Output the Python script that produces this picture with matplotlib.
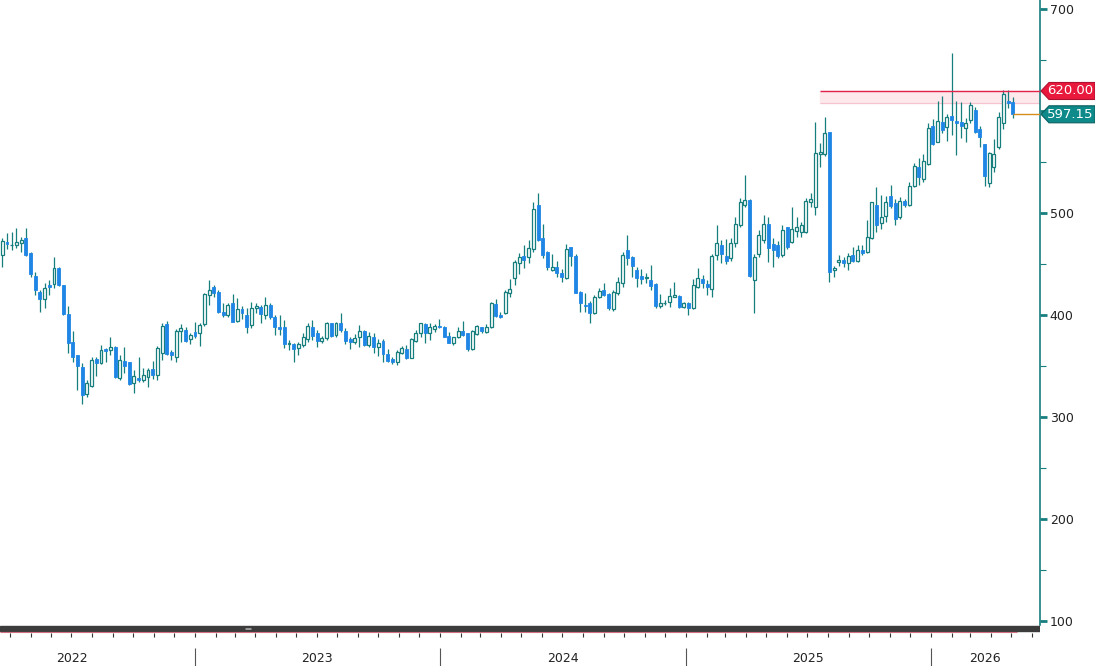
import matplotlib
matplotlib.use('Agg')
import matplotlib.pyplot as plt
import matplotlib.dates as mdates
from matplotlib.patches import Polygon
from matplotlib.transforms import blended_transform_factory
import numpy as np
import pandas as pd

# weekly candles, first week starting 2022-03-20
start = '2022-03-20'

opens = [459.2, 471.6, 469.0, 469.0, 471.3, 475.5, 460.8, 438.6, 423.2, 416.0,
         429.5, 430.7, 446.1, 429.7, 401.0, 374.0, 361.0, 349.6, 322.8, 331.0,
         357.1, 352.9, 366.6, 366.0, 369.2, 338.2, 355.2, 354.5, 333.9, 338.5,
         336.5, 339.8, 347.0, 341.4, 363.4, 391.5, 364.3, 358.8, 384.6, 385.6,
         376.4, 384.0, 382.3, 391.5, 420.0, 428.2, 423.2, 403.0, 400.4, 411.8,
         394.8, 405.9, 400.4, 390.5, 406.9, 408.5, 400.4, 410.2, 398.7, 388.9,
         388.3, 371.9, 371.9, 367.7, 370.9, 376.5, 388.9, 382.4, 375.2, 377.5,
         392.2, 380.7, 392.8, 384.7, 376.5, 374.2, 378.4, 384.7, 370.9, 378.4,
         368.6, 374.9, 362.1, 356.9, 354.6, 363.4, 367.0, 358.5, 375.2, 382.4,
         391.5, 382.4, 386.3, 389.6, 388.9, 379.8, 373.2, 378.4, 384.7, 382.4,
         366.7, 381.7, 388.3, 384.0, 388.3, 411.1, 400.3, 401.9, 422.2, 436.2,
         451.0, 458.1, 456.8, 464.7, 508.2, 475.5, 462.4, 444.4, 447.0, 441.8,
         436.2, 467.3, 458.1, 423.2, 410.1, 411.7, 402.6, 417.6, 424.8, 420.9,
         405.8, 421.5, 432.0, 464.0, 456.8, 444.4, 438.5, 436.2, 434.6, 430.7,
         409.1, 412.4, 413.4, 418.3, 418.9, 408.4, 412.4, 406.8, 427.4, 435.3,
         430.7, 425.5, 459.1, 468.9, 458.1, 455.9, 470.6, 488.6, 508.2, 513.2,
         434.7, 460.2, 473.9, 489.6, 470.0, 469.0, 459.2, 486.3, 472.3, 483.1,
         482.1, 482.1, 511.5, 505.8, 558.5, 558.2, 579.4, 444.4, 452.5, 454.2,
         451.6, 459.1, 453.5, 464.6, 462.4, 475.4, 508.1, 490.2, 497.3, 517.0,
         510.4, 496.0, 512.4, 508.1, 526.8, 545.7, 533.3, 548.4, 585.6, 570.3,
         589.9, 585.0, 595.4, 590.5, 589.9, 583.3, 591.5, 601.3, 582.4, 568.0,
         530.0, 545.1, 565.4, 588.9, 610.2, 608.8]

highs = [475.6, 480.4, 482.0, 485.3, 476.5, 485.3, 461.8, 442.8, 424.8, 431.4,
         434.6, 456.9, 447.0, 429.7, 409.0, 384.6, 361.0, 352.9, 336.5, 359.4,
         358.8, 370.9, 367.6, 378.4, 369.9, 361.0, 369.2, 354.5, 346.4, 358.8,
         348.0, 348.0, 355.2, 369.9, 392.8, 394.7, 366.0, 386.2, 391.5, 388.2,
         382.3, 393.1, 392.1, 422.2, 434.6, 429.8, 424.9, 411.8, 412.5, 421.0,
         416.7, 409.2, 406.9, 413.4, 412.5, 410.2, 417.7, 412.5, 400.4, 400.4,
         395.5, 375.8, 373.2, 374.2, 382.4, 392.8, 395.5, 385.6, 379.8, 393.8,
         392.8, 393.8, 402.0, 387.3, 379.1, 381.7, 390.5, 385.6, 384.0, 383.0,
         376.5, 376.5, 366.7, 359.5, 366.0, 370.0, 370.9, 377.5, 385.6, 392.8,
         392.8, 392.2, 391.5, 396.0, 389.6, 384.0, 379.1, 388.3, 394.8, 383.0,
         385.6, 390.5, 388.9, 391.5, 413.4, 415.7, 403.5, 424.8, 435.3, 454.2,
         460.8, 469.0, 473.8, 511.4, 519.6, 489.5, 463.4, 460.1, 453.6, 445.1,
         469.9, 467.3, 460.1, 424.1, 421.5, 414.4, 419.9, 426.4, 431.3, 421.5,
         424.8, 437.9, 462.4, 478.7, 458.1, 447.0, 445.1, 441.1, 449.3, 431.3,
         420.9, 415.0, 426.4, 433.0, 419.9, 413.4, 413.4, 435.3, 446.0, 439.5,
         434.6, 460.1, 488.6, 473.8, 474.5, 475.6, 496.2, 514.8, 537.7, 513.8,
         460.2, 483.7, 498.4, 496.2, 475.6, 473.3, 488.6, 487.0, 506.0, 496.2,
         491.9, 514.8, 520.4, 589.9, 568.6, 594.8, 580.1, 448.3, 459.1, 457.5,
         460.7, 466.6, 468.9, 468.9, 493.4, 511.4, 526.1, 518.0, 517.0, 527.8,
         513.7, 515.7, 513.7, 531.0, 549.7, 553.9, 558.2, 588.3, 592.2, 610.5,
         615.0, 597.4, 657.6, 610.5, 609.5, 593.2, 609.5, 604.6, 585.6, 568.0,
         560.5, 572.6, 599.7, 621.0, 621.0, 613.8]

lows = [447.2, 464.7, 464.0, 465.7, 462.4, 458.2, 437.3, 420.0, 403.6, 406.8,
        420.0, 426.5, 429.0, 400.3, 363.4, 354.5, 326.7, 313.0, 320.2, 330.0,
        340.8, 352.2, 354.5, 361.1, 338.2, 336.5, 343.1, 331.6, 324.1, 334.9,
        334.9, 330.0, 337.2, 336.5, 356.2, 361.1, 356.2, 354.5, 374.0, 374.0,
        371.9, 377.4, 369.9, 389.5, 410.0, 418.3, 402.6, 398.7, 398.7, 393.2,
        393.8, 396.1, 382.4, 387.3, 402.0, 392.2, 396.1, 396.1, 380.7, 380.7,
        367.7, 366.0, 354.6, 361.1, 368.6, 374.2, 375.8, 368.6, 373.2, 375.8,
        378.4, 379.1, 384.0, 372.0, 366.7, 371.9, 369.3, 370.0, 368.6, 363.4,
        360.1, 354.6, 354.6, 352.3, 351.3, 362.1, 356.9, 357.8, 374.2, 379.1,
        372.6, 375.8, 384.0, 387.3, 378.4, 372.6, 370.9, 377.5, 379.8, 365.4,
        366.0, 380.7, 383.0, 382.4, 387.3, 398.7, 397.0, 401.2, 417.6, 429.7,
        440.5, 446.0, 451.0, 462.4, 473.2, 455.9, 444.4, 443.8, 437.2, 433.0,
        435.3, 448.3, 421.5, 403.5, 403.5, 392.1, 401.2, 416.6, 418.9, 405.2,
        404.5, 419.9, 427.4, 449.3, 437.2, 428.0, 430.7, 431.3, 424.8, 406.8,
        406.8, 410.1, 408.4, 417.6, 406.8, 406.8, 400.3, 405.8, 426.4, 426.4,
        419.9, 418.3, 454.2, 450.9, 450.3, 453.6, 466.7, 487.0, 506.6, 437.9,
        402.6, 456.9, 471.3, 452.6, 447.8, 455.9, 456.9, 464.8, 470.7, 476.5,
        477.2, 481.1, 506.6, 498.3, 545.7, 556.2, 432.9, 437.2, 448.3, 447.0,
        445.0, 452.5, 452.5, 459.1, 460.7, 474.5, 482.0, 484.3, 491.8, 504.9,
        488.5, 495.0, 506.5, 507.2, 525.5, 527.8, 531.0, 547.4, 567.0, 570.3,
        578.4, 571.2, 576.8, 557.2, 573.5, 570.3, 588.9, 578.4, 564.7, 526.8,
        525.5, 540.8, 562.7, 582.4, 603.0, 593.2]

closes = [473.2, 469.6, 469.5, 471.6, 474.0, 459.2, 440.2, 424.8, 416.0, 426.5,
          428.0, 446.1, 429.7, 401.0, 373.0, 359.4, 350.6, 321.8, 334.2, 356.2,
          353.5, 366.0, 365.3, 369.2, 339.8, 356.2, 350.3, 332.6, 340.5, 336.5,
          341.4, 346.4, 341.4, 367.6, 389.5, 362.0, 361.1, 385.0, 387.9, 375.1,
          380.6, 379.7, 390.5, 420.9, 424.8, 421.6, 403.6, 400.4, 410.2, 393.8,
          405.9, 402.0, 388.3, 406.9, 409.2, 401.0, 410.2, 398.1, 388.3, 386.6,
          371.9, 373.2, 367.0, 371.9, 379.1, 389.6, 379.8, 375.2, 377.5, 392.8,
          379.8, 392.8, 385.6, 375.2, 373.5, 377.5, 384.7, 370.9, 379.8, 368.6,
          372.6, 362.1, 355.6, 353.9, 364.4, 368.3, 357.8, 376.5, 383.0, 392.2,
          382.4, 388.9, 389.6, 388.3, 379.1, 373.2, 378.4, 384.7, 380.7, 366.7,
          385.0, 389.6, 385.0, 388.3, 412.4, 399.7, 398.6, 423.2, 425.5, 452.6,
          456.8, 454.2, 465.7, 503.9, 473.8, 459.1, 447.7, 447.0, 441.8, 437.9,
          465.0, 458.1, 422.2, 411.7, 409.4, 401.9, 418.3, 424.2, 419.9, 406.8,
          423.2, 433.0, 459.1, 455.9, 448.3, 436.2, 435.3, 437.2, 428.7, 409.1,
          412.4, 412.6, 418.9, 419.9, 407.8, 412.4, 406.8, 429.7, 436.2, 431.3,
          427.4, 458.1, 470.6, 460.1, 453.6, 471.3, 489.6, 511.5, 513.2, 438.6,
          457.6, 478.8, 489.6, 465.7, 464.1, 458.2, 483.7, 466.7, 484.4, 487.0,
          488.6, 512.5, 513.8, 559.5, 560.0, 578.4, 442.7, 446.0, 454.8, 451.6,
          458.1, 453.5, 464.6, 460.7, 476.4, 510.7, 488.5, 496.0, 511.4, 507.2,
          495.0, 512.4, 508.1, 526.8, 546.4, 535.3, 551.6, 583.3, 568.0, 590.9,
          581.7, 594.1, 591.5, 588.3, 585.6, 588.9, 606.2, 580.1, 575.2, 536.6,
          558.8, 557.8, 594.1, 617.0, 608.5, 597.15]

y_ticks = [100, 200, 300, 400, 500, 600, 700]
y_labels = ['100', '200', '300', '400', '500', '', '700']  # 600 sits under the price tag
year_labels = ['2022', '2023', '2024', '2025', '2026']
level_price = 620.0
band_low = 608.0
last_price = 597.15

teal = '#177e7e'
blue = '#1f86e6'

W, H = 1095, 666
fig = plt.figure(figsize=(W / 100, H / 100), dpi=100)
fig.patch.set_facecolor('white')

ax_w = 1040 / W
strip_h = 41 / H
ax = fig.add_axes([0, strip_h, ax_w, 1 - strip_h])

o = np.array(opens)
h = np.array(highs)
l = np.array(lows)
c = np.array(closes)
dates = pd.date_range(start, periods=len(c), freq='7D')
x = mdates.date2num(dates)
week = 7.0

up = c >= o
dn = ~up
width = 4.4

ax.vlines(x, l, h, color=teal, lw=0.9, zorder=2)
ax.bar(x[up], (c - o)[up], width=width, bottom=o[up], facecolor='white',
       edgecolor=teal, linewidth=0.9, zorder=3)
ax.bar(x[dn], (o - c)[dn], width=width, bottom=c[dn], facecolor=blue,
       edgecolor=blue, linewidth=0.6, zorder=3)

x_left = x[0] - 0.49 * week
x_right = x[0] + 220.8 * week
ax.set_xlim(x_left, x_right)
ax.set_ylim(96.5, 709.2)

# resistance level + band
lvl_start = x[0] + 174 * week
ax.fill_between([lvl_start, x_right], band_low, level_price, color='#fde8ec', zorder=1)
ax.hlines(band_low, lvl_start, x_right, color='#f6c2cd', lw=0.8, zorder=1)
ax.hlines(level_price, lvl_start, x_right, color='#e2234a', lw=1.0, zorder=4)
ax.hlines(last_price, x[-1], x_right, color='#d68f1f', lw=1.0, zorder=4)

# right axis
ax.yaxis.tick_right()
ax.set_yticks(y_ticks)
ax.set_yticklabels(y_labels)
ax.set_yticks([v + 50 for v in y_ticks[:-1]], minor=True)
ax.tick_params(axis='y', which='major', direction='out', length=5, width=2,
               color=teal, labelsize=9, labelcolor='#222222', pad=2)
ax.tick_params(axis='y', which='minor', direction='out', length=4, width=0.8,
               color=teal)
ax.set_xticks([])
for s in ['top', 'left', 'bottom']:
    ax.spines[s].set_visible(False)
ax.spines['right'].set_color(teal)
ax.spines['right'].set_linewidth(1.2)

# price tags
trans = blended_transform_factory(fig.transFigure, ax.transData)
half = 8.5 / 1.02


def tag(y, text, fc, ec):
    pts = [(1041 / W, y), (1049 / W, y + half), (1095 / W, y + half),
           (1095 / W, y - half), (1049 / W, y - half)]
    ax.add_patch(Polygon(pts, closed=True, facecolor=fc, edgecolor=ec, lw=0.8,
                         transform=trans, clip_on=False, zorder=10))
    ax.text(1070 / W, y, text, transform=trans, ha='center', va='center',
            color='white', fontsize=9.5, zorder=11, clip_on=False)


tag(level_price, '%.2f' % level_price, '#e8193c', '#b01030')
tag(last_price, '%.2f' % last_price, '#0f8a8a', '#0a5f5f')

# bottom date strip
bx = fig.add_axes([0, 0, ax_w, strip_h])
bx.set_xlim(x_left, x_right)
bx.set_ylim(41, 0)
bx.axis('off')
bx.axhspan(1, 6, color='#3c3c3c', zorder=1)
grip = x_left + (x_right - x_left) * 248 / 1040
bx.hlines([2.8, 4.2], grip - 4.5, grip + 4.5, color='#9a9a9a', lw=0.7, zorder=2)
bx.hlines(7, x_left, x[-1] + week, color='#d07080', lw=0.8)
months = mdates.date2num(pd.date_range('2022-04-01', '2026-06-01', freq='MS'))
bx.vlines(months, 8, 12, color='#333333', lw=0.8)
year_starts = [mdates.date2num(pd.Timestamp(y + '-01-01')) for y in year_labels[1:]]
bx.vlines(year_starts, 23, 41, color='#555555', lw=0.8)
mids = [mdates.date2num(pd.Timestamp(y + '-07-02')) for y in year_labels[:-1]]
mids.append((year_starts[-1] + x_right) / 2)
for m, lab in zip(mids, year_labels):
    bx.text(m, 33, lab, ha='center', va='center', fontsize=9, color='#222222')

fig.savefig('out.png', dpi=100)
